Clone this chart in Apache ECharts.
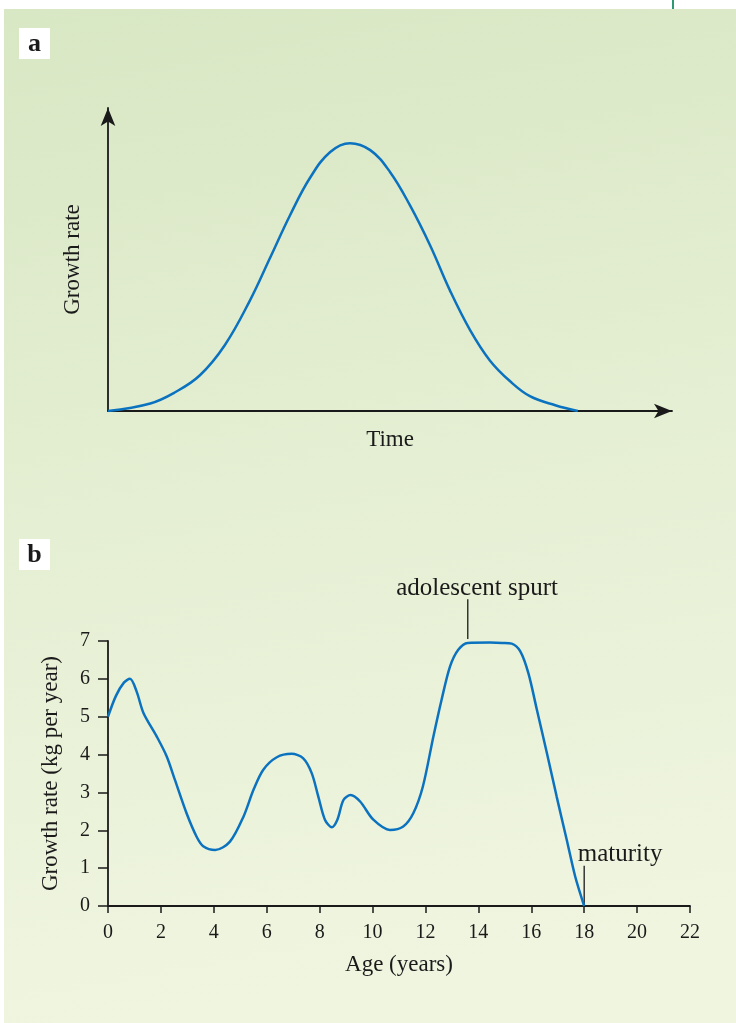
<!DOCTYPE html>
<html>
<head>
<meta charset="utf-8">
<script src="https://cdn.jsdelivr.net/npm/echarts@6/dist/echarts.min.js"></script>
<style>
  html, body { margin: 0; padding: 0; background: #fff; }
  #main { width: 736px; height: 1023px; }
</style>
</head>
<body>
<div id="main"></div>
<script>
// panel a: schematic growth curve, arbitrary units
const timeA = [0, 0.75, 1.19, 1.63, 2.07, 2.52, 2.87, 3.23, 3.58, 3.94, 4.29, 4.65, 5.0, 5.35, 5.71, 6.06, 6.42, 6.77, 7.13, 7.48, 7.93, 8.33];
const rateA = [0, 0.25, 0.62, 1.18, 2.17, 3.66, 5.04, 6.47, 7.69, 8.55, 8.84, 8.61, 7.89, 6.8, 5.47, 3.99, 2.67, 1.67, 0.98, 0.49, 0.19, 0];

// panel b: growth rate by age
const ageB = [0, 0.3, 0.6, 0.83, 1.08, 1.34, 1.84, 2.22, 2.53, 2.97, 3.35, 3.6, 4.05, 4.61, 5.12, 5.5, 5.87, 6.38, 6.94, 7.38, 7.7, 7.95, 8.2, 8.46, 8.67, 8.9, 9.17, 9.53, 10.03, 10.66, 11.16, 11.54, 11.9, 12.3, 12.61, 12.93, 13.24, 13.6, 14.44, 14.9, 15.26, 15.58, 15.89, 16.21, 16.59, 16.96, 17.34, 17.66, 18];
const rateB = [5.0, 5.55, 5.9, 6.0, 5.67, 5.1, 4.48, 3.95, 3.33, 2.45, 1.83, 1.58, 1.48, 1.7, 2.36, 3.07, 3.6, 3.93, 4.02, 3.9, 3.51, 2.89, 2.28, 2.08, 2.28, 2.8, 2.93, 2.76, 2.28, 2.01, 2.1, 2.45, 3.15, 4.48, 5.45, 6.33, 6.77, 6.95, 6.96, 6.95, 6.93, 6.73, 6.15, 5.19, 4.04, 2.89, 1.75, 0.78, 0];

const ageTicks = [0, 2, 4, 6, 8, 10, 12, 14, 16, 18, 20, 22];
const rateTicks = [0, 1, 2, 3, 4, 5, 6, 7];

// annotations: label, age of leader line, line from/to value, text centre
const noteLabels = ['adolescent spurt', 'maturity'];
const noteAge = [13.6, 18];
const noteFrom = [7.05, 0.05];
const noteTo = [8.1, 1.06];
const noteTextAge = [13.95, 19.36];
const noteTextVal = [8.4, 1.35];

const serif = "'Liberation Serif', 'DejaVu Serif', serif";
const ink = '#1a1a1a';
const blue = '#0b72c0';

const chart = echarts.init(document.getElementById('main'));

const plainAxis = {
  axisLine: { show: true, lineStyle: { color: ink, width: 1.8 } },
  splitLine: { show: false },
  nameTextStyle: { fontFamily: serif, fontSize: 23, color: ink }
};

chart.setOption({
  backgroundColor: '#fff',
  animation: false,
  grid: [
    { left: 108, right: 64, top: 108, bottom: 612 },
    { left: 108, right: 46, top: 641, bottom: 117 }
  ],
  xAxis: [
    Object.assign({}, plainAxis, {
      gridIndex: 0, type: 'value', min: 0, max: 10,
      axisLine: { show: true, symbol: ['none', 'arrow'], symbolSize: [11, 18], lineStyle: { color: ink, width: 1.8 } },
      axisTick: { show: false }, axisLabel: { show: false },
      name: 'Time', nameLocation: 'middle', nameGap: 17
    }),
    Object.assign({}, plainAxis, {
      gridIndex: 1, type: 'value',
      min: ageTicks[0], max: ageTicks[ageTicks.length - 1], interval: ageTicks[1] - ageTicks[0],
      axisTick: { show: true, length: 7, lineStyle: { color: ink, width: 1.5 } },
      axisLabel: { margin: 17, fontFamily: serif, fontSize: 20, color: ink },
      name: 'Age (years)', nameLocation: 'middle', nameGap: 47
    })
  ],
  yAxis: [
    Object.assign({}, plainAxis, {
      gridIndex: 0, type: 'value', min: 0, max: 10,
      axisLine: { show: true, symbol: ['none', 'arrow'], symbolSize: [11, 18], lineStyle: { color: ink, width: 1.8 } },
      axisTick: { show: false }, axisLabel: { show: false },
      name: 'Growth rate', nameLocation: 'middle', nameGap: 24
    }),
    Object.assign({}, plainAxis, {
      gridIndex: 1, type: 'value',
      min: rateTicks[0], max: rateTicks[rateTicks.length - 1], interval: rateTicks[1] - rateTicks[0],
      axisTick: { show: true, length: 10, lineStyle: { color: ink, width: 1.5 } },
      axisLabel: { margin: 18, fontFamily: serif, fontSize: 20, color: ink },
      name: 'Growth rate (kg per year)', nameLocation: 'middle', nameGap: 46
    })
  ],
  series: [
    {
      type: 'line', xAxisIndex: 0, yAxisIndex: 0,
      data: timeA.map((t, i) => [t, rateA[i]]),
      smooth: 0.4, showSymbol: false,
      lineStyle: { color: blue, width: 2.5 }
    },
    {
      type: 'line', xAxisIndex: 1, yAxisIndex: 1,
      data: ageB.map((a, i) => [a, rateB[i]]),
      smooth: 0.3, showSymbol: false,
      lineStyle: { color: blue, width: 2.5 }
    }
  ]
});

// decorations and annotations placed through the chart's own scales
const px = (a, v) => chart.convertToPixel({ gridIndex: 1 }, [a, v]);
const graphic = [
  {
    type: 'rect', z: -10, silent: true,
    shape: { x: 4, y: 9, width: 732, height: 1014 },
    style: {
      fill: new echarts.graphic.LinearGradient(0, 0, 0.25, 1, [
        { offset: 0, color: '#d8e7c4' },
        { offset: 0.5, color: '#e5efd3' },
        { offset: 1, color: '#f0f5e0' }
      ])
    }
  },
  { type: 'line', shape: { x1: 673, y1: 0, x2: 673, y2: 9 }, style: { stroke: '#2f9a72', lineWidth: 2 } }
];
[['a', 28], ['b', 539]].forEach(([letter, top]) => {
  graphic.push({ type: 'rect', shape: { x: 19, y: top, width: 31, height: 31 }, style: { fill: '#fff' } });
  graphic.push({
    type: 'text', x: 34.5, y: top + 16,
    style: { text: letter, fontFamily: serif, fontWeight: 'bold', fontSize: 26, fill: ink, align: 'center', verticalAlign: 'middle' }
  });
});
noteLabels.forEach((label, i) => {
  const p1 = px(noteAge[i], noteFrom[i]);
  const p2 = px(noteAge[i], noteTo[i]);
  const pt = px(noteTextAge[i], noteTextVal[i]);
  graphic.push({ type: 'line', shape: { x1: p1[0], y1: p1[1], x2: p2[0], y2: p2[1] }, style: { stroke: ink, lineWidth: 1.3 } });
  graphic.push({
    type: 'text', x: pt[0], y: pt[1],
    style: { text: label, fontFamily: serif, fontSize: 25, fill: ink, align: 'center', verticalAlign: 'middle' }
  });
});
chart.setOption({ graphic: graphic });
</script>
</body>
</html>
